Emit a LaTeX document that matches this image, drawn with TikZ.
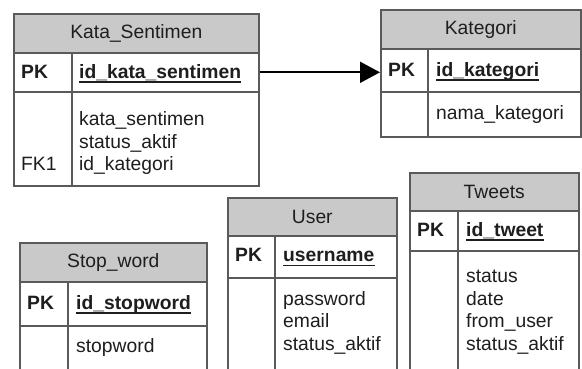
\documentclass[tikz,border=0pt]{standalone}
\usepackage{fontspec}
\setmainfont{Liberation Sans}
\usetikzlibrary{arrows.meta}
\definecolor{bordc}{HTML}{5A5A5A}
\definecolor{hdrc}{HTML}{C9C9C9}
\definecolor{txtc}{HTML}{1E1E1E}
\tikzset{
  hdr/.style={draw=bordc, fill=hdrc, line width=1.6pt, rectangle, inner sep=0pt, anchor=north west, text=txtc, font=\fontsize{19.3}{22}\selectfont},
  rowbox/.style={draw=bordc, fill=white, line width=1.6pt, rectangle, inner sep=0pt, anchor=north west},
  divline/.style={draw=bordc, line width=1.6pt},
  txt/.style={inner sep=0pt, anchor=base west, text=txtc, font=\fontsize{19.3}{22}\selectfont},
  pk/.style={txt, font=\fontsize{19.3}{22}\selectfont\bfseries},
  uline/.style={draw=txtc, line width=1.3pt},
  rel/.style={draw=black, line width=1.8pt, -{Triangle[length=20pt,width=21pt]}}
}
\begin{document}
\begin{tikzpicture}[x=1pt,y=-1pt]
\useasboundingbox (0,0) rectangle (582,368);
\fill[white] (0,0) rectangle (582,368);
\clip (0,0) rectangle (582,368);

% ---------- Kata_Sentimen ----------
\node[rowbox, minimum width=245pt, minimum height=94pt] (ksB) at (13,91) {};
\node[rowbox, minimum width=245pt, minimum height=39pt] (ksP) at (13,52) {};
\node[hdr, minimum width=245pt, minimum height=39pt] (ksH) at (13,13) {Kata\_Sentimen};
\draw[divline] (72,52) -- (72,185);
\node[pk] (ksPK) at (21,78) {PK};
\node[pk] (ksPF) at (79,78) {id\_kata\_sentimen};
\draw[uline] ([yshift=-4pt]ksPF.base west) -- ([yshift=-4pt]ksPF.base east);
\node[txt] (ksA1) at (79,125.5) {kata\_sentimen};
\node[txt] (ksA2) at (79,148) {status\_aktif};
\node[txt] (ksA3) at (79,170.5) {id\_kategori};
\node[txt] (ksFK) at (21,170.5) {FK1};

% ---------- Kategori ----------
\node[rowbox, minimum width=200pt, minimum height=45pt] (kgB) at (380,91) {};
\node[rowbox, minimum width=200pt, minimum height=43pt] (kgP) at (380,48) {};
\node[hdr, minimum width=200pt, minimum height=39pt] (kgH) at (380,9) {Kategori};
\draw[divline] (428,48) -- (428,136);
\node[pk] (kgPK) at (388,76) {PK};
\node[pk] (kgPF) at (436,76) {id\_kategori};
\draw[uline] ([yshift=-4pt]kgPF.base west) -- ([yshift=-4pt]kgPF.base east);
\node[txt] (kgA1) at (436,119) {nama\_kategori};

% ---------- Tweets ----------
\node[rowbox, minimum width=169pt, minimum height=130pt] (twB) at (409,250) {};
\node[rowbox, minimum width=169pt, minimum height=40pt] (twP) at (409,210) {};
\node[hdr, minimum width=169pt, minimum height=38pt] (twH) at (409,172) {Tweets};
\draw[divline] (458,210) -- (458,380);
\node[pk] (twPK) at (417,236) {PK};
\node[pk] (twPF) at (466,236) {id\_tweet};
\draw[uline] ([yshift=-4pt]twPF.base west) -- ([yshift=-4pt]twPF.base east);
\node[txt] (twA1) at (466,282) {status};
\node[txt] (twA2) at (466,305) {date};
\node[txt] (twA3) at (466,327.5) {from\_user};
\node[txt] (twA4) at (466,350.5) {status\_aktif};

% ---------- User ----------
\node[rowbox, minimum width=169pt, minimum height=103pt] (usB) at (227,277) {};
\node[rowbox, minimum width=169pt, minimum height=42pt] (usP) at (227,235) {};
\node[hdr, minimum width=169pt, minimum height=38pt] (usH) at (227,197) {User};
\draw[divline] (275,235) -- (275,380);
\node[pk] (usPK) at (235,261.5) {PK};
\node[pk] (usPF) at (283,261.5) {username};
\draw[uline] ([yshift=-4pt]usPF.base west) -- ([yshift=-4pt]usPF.base east);
\node[txt] (usA1) at (283,305) {password};
\node[txt] (usA2) at (283,327.5) {email};
\node[txt] (usA3) at (283,350.5) {status\_aktif};

% ---------- Stop_word ----------
\node[rowbox, minimum width=187pt, minimum height=55pt] (swB) at (19,325) {};
\node[rowbox, minimum width=187pt, minimum height=44pt] (swP) at (19,281) {};
\node[hdr, minimum width=187pt, minimum height=39pt] (swH) at (19,242) {Stop\_word};
\draw[divline] (68,281) -- (68,380);
\node[pk] (swPK) at (27,309) {PK};
\node[pk] (swPF) at (76,309) {id\_stopword};
\draw[uline] ([yshift=-4pt]swPF.base west) -- ([yshift=-4pt]swPF.base east);
\node[txt] (swA1) at (76,352) {stopword};

% ---------- relationship ----------
\draw[rel] (ksP.east) -- (ksP.east -| kgP.west);
\end{tikzpicture}
\end{document}
